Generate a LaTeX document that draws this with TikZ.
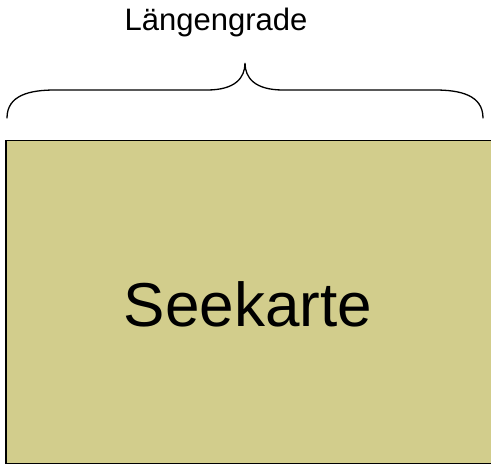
\documentclass[tikz,border=0pt]{standalone}
\usepackage{fontspec}
\setmainfont{Liberation Sans}
\definecolor{kartefill}{RGB}{210,205,140}
\begin{document}
\begin{tikzpicture}[x=1pt,y=-1pt,
  lbl/.style={inner sep=0pt,anchor=base},
  bracestyle/.style={line width=1.3pt,line cap=round}]
\useasboundingbox (0,0) rectangle (491,465);
\node[draw=black,line width=1.5pt,fill=kartefill,minimum width=488pt,minimum height=323pt,anchor=north west,inner sep=0pt] (karte) at (5,140) {};
\node[lbl,font=\fontsize{62}{70}\selectfont] (seek) at (248,327) {Seekarte};
\node[lbl,font=\fontsize{31}{36}\selectfont] (laeng) at (216,31) {Längengrade};
\draw[bracestyle] (7,118) .. controls (7,95) and (30,90) .. (55,90)
  -- (207,90) .. controls (235,90) and (245,78) .. (245,63)
  .. controls (245,78) and (255,90) .. (283,90)
  -- (435,90) .. controls (460,90) and (483,95) .. (483,118);
\end{tikzpicture}
\end{document}
